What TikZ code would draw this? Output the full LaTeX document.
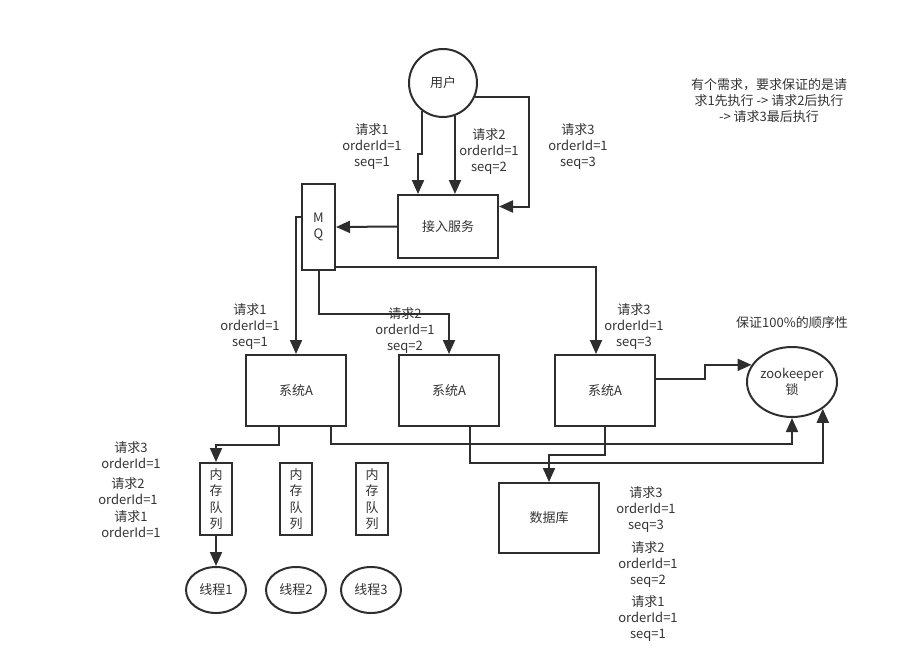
\documentclass[tikz,border=0pt]{standalone}
\usepackage{fontspec}
\setmainfont{Noto Sans CJK SC}
\usetikzlibrary{arrows.meta,shapes.geometric}
\definecolor{linegray}{HTML}{2E2E2E}
\definecolor{textgray}{HTML}{333333}

\begin{document}
\begin{tikzpicture}[x=1pt, y=-1pt, line width=2pt, color=linegray,
        box node/.style={rectangle, draw, minimum width=100, minimum height=70, text=textgray, font=\fontsize{13}{16}\selectfont},
        queue node/.style={rectangle, draw, minimum width=32, minimum height=72, inner sep=0, align=center, text=textgray, font=\fontsize{13}{16.5}\selectfont},
        round node/.style={ellipse, draw, inner sep=0, align=center, text=textgray, font=\fontsize{13}{16}\selectfont},
        lbl node/.style={align=center, text=textgray, font=\fontsize{13}{16}\selectfont},
        arr/.style={-{Triangle[length=14pt,width=12pt]}}]
    \useasboundingbox (0,0) rectangle (904,670);

    \node[round node, minimum width=68, minimum height=68] (user) at (443,83) {用户};
    \node[box node, minimum height=63] (jieru) at (448,226.5) {接入服务};
    \node[queue node, minimum width=33, minimum height=86] (mq) at (318.5,227) {M\\Q};

    \node[box node, minimum height=71] (sysA) at (296,390.5) {系统A};
    \node[box node, minimum height=71] (sysB) at (449,390.5) {系统A};
    \node[box node, minimum height=71] (sysC) at (605,390.5) {系统A};

    \node[round node, minimum width=90, minimum height=70] (zk) at (792,382) {zookeeper\\锁};
    \node[box node] (db) at (549,518) {数据库};

    \node[queue node] (q1) at (216,499) {内\\存\\队\\列};
    \node[queue node] (q2) at (296,499) {内\\存\\队\\列};
    \node[queue node] (q3) at (372,499) {内\\存\\队\\列};

    \node[round node, minimum width=60, minimum height=46] (t1) at (216,590) {线程1};
    \node[round node, minimum width=60, minimum height=46] (t2) at (296,590) {线程2};
    \node[round node, minimum width=60, minimum height=46] (t3) at (371,590) {线程3};

    % labels
    \node[lbl node] (in1) at (372,147) {请求1\\orderId=1\\seq=1};
    \node[lbl node] (in2) at (489,152) {请求2\\orderId=1\\seq=2};
    \node[lbl node] (in3) at (578,147) {请求3\\orderId=1\\seq=3};
    \node[lbl node] (out1) at (250,327) {请求1\\orderId=1\\seq=1};
    \node[lbl node] (out2) at (405,331) {请求2\\orderId=1\\seq=2};
    \node[lbl node] (out3) at (634,327) {请求3\\orderId=1\\seq=3};
    \node[lbl node] (ql3) at (131,455) {请求3\\orderId=1};
    \node[lbl node] (ql2) at (128,491) {请求2\\orderId=1};
    \node[lbl node] (ql1) at (131,524) {请求1\\orderId=1};
    \node[lbl node] (dl3) at (646,510) {请求3\\orderId=1\\seq=3};
    \node[lbl node] (dl2) at (648,565) {请求2\\orderId=1\\seq=2};
    \node[lbl node] (dl1) at (648,619) {请求1\\orderId=1\\seq=1};
    \node[lbl node] (need) at (769,101) {有个需求，要求保证的是请\\求1先执行 -> 请求2后执行\\-> 请求3最后执行};
    \node[lbl node] (zknote) at (792,323) {保证100\%的顺序性};

    \draw[arr] (user.234) -- ++(0,43) -| ([xshift=-30]jieru.north);
    \draw[arr] (user.290) -- (user.290 |- jieru.north);
    \draw[arr] (user.-24) -- ++(54,0) |- ([yshift=20]jieru.east);
    \draw[arr] (jieru.west) -- (mq.east);

    \draw[arr] ([yshift=10]mq.west) -| (sysA.north);
    \draw[arr] (mq.south) -- ++(0,43) -| (sysB.north);
    \draw[arr] ([yshift=-40]mq.east) -| ([xshift=-9]sysC.north);

    \draw[arr] ([yshift=12]sysC.east) -- ++(49,0) |- (zk.157);
    \draw[arr] ([xshift=-17]sysA.south) -- ++(0,18) -| (q1.north);
    \draw[arr] ([xshift=35]sysA.south) -- ++(0,17) -| (zk.south);
    \draw[arr] ([xshift=21]sysB.south) -- ++(0,36) -| (zk.-41);
    \draw[arr] (sysC.south) -- ++(0,28) -| (db.north);
    \draw[arr] (q1.south) -- (t1.north);
\end{tikzpicture}
\end{document}
